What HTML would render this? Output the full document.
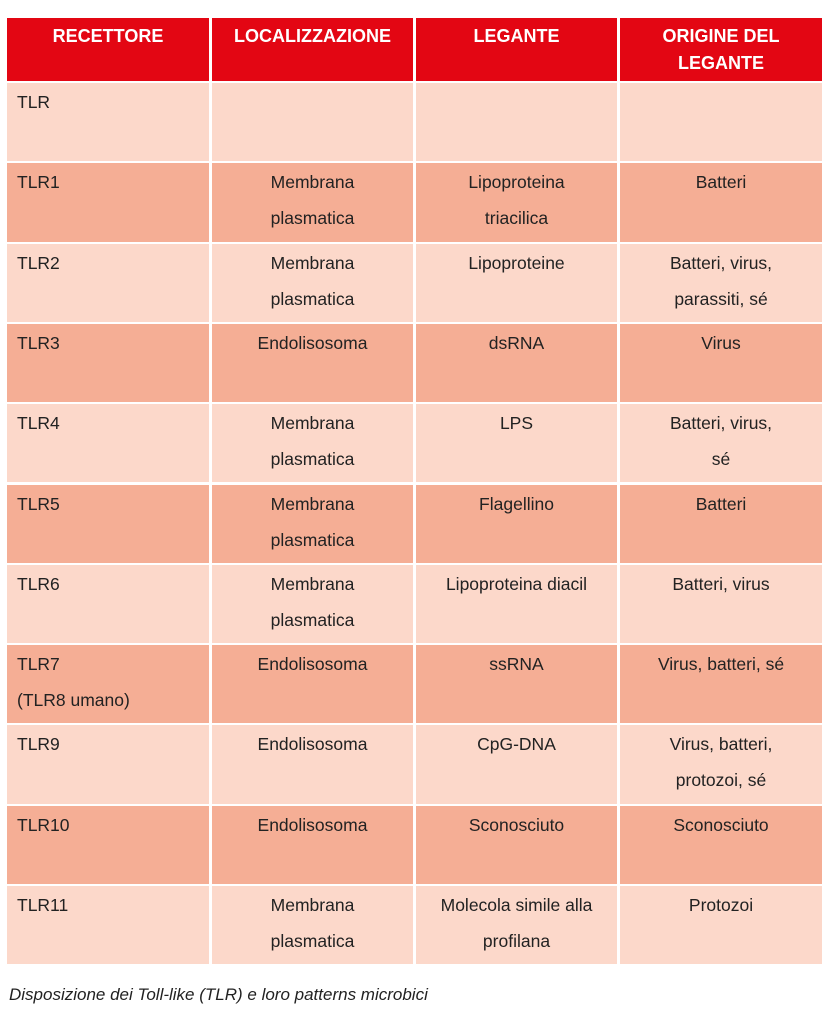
<!DOCTYPE html>
<html><head><style>
body{margin:0;width:827px;height:1024px;background:#fff;position:relative;font-family:"Liberation Sans",sans-serif;overflow:hidden}
.c{position:absolute;box-sizing:border-box;font-size:17.5px;line-height:36px;color:#222;text-align:center;padding-top:1px}
.h{background:#e30613;color:#fff;font-weight:bold;font-size:18px;line-height:27px;padding-top:5px}
.l{text-align:left;padding-left:10px}
.a{background:#fcd8ca}.b{background:#f5ae95}
.cap{position:absolute;left:9px;top:985px;font-style:italic;font-size:17px;color:#222}
</style></head><body>
<div id="t"></div>
<div class="cap">Disposizione dei Toll-like (TLR) e loro patterns microbici</div>
<script>
var X=[[7,202],[212,201],[416,201],[620,202]];
var H=["RECETTORE","LOCALIZZAZIONE","LEGANTE","ORIGINE DEL<br>LEGANTE"];
var R=[["TLR","","",""],
["TLR1","Membrana<br>plasmatica","Lipoproteina<br>triacilica","Batteri"],
["TLR2","Membrana<br>plasmatica","Lipoproteine","Batteri, virus,<br>parassiti, sé"],
["TLR3","Endolisosoma","dsRNA","Virus"],
["TLR4","Membrana<br>plasmatica","LPS","Batteri, virus,<br>sé"],
["TLR5","Membrana<br>plasmatica","Flagellino","Batteri"],
["TLR6","Membrana<br>plasmatica","Lipoproteina diacil","Batteri, virus"],
["TLR7<br>(TLR8 umano)","Endolisosoma","ssRNA","Virus, batteri, sé"],
["TLR9","Endolisosoma","CpG-DNA","Virus, batteri,<br>protozoi, sé"],
["TLR10","Endolisosoma","Sconosciuto","Sconosciuto"],
["TLR11","Membrana<br>plasmatica","Molecola simile alla<br>profilana","Protozoi"]];
var s="";
for(var j=0;j<4;j++)s+='<div class="c h" style="left:'+X[j][0]+'px;top:18px;width:'+X[j][1]+'px;height:63px">'+H[j]+'</div>';
for(var i=0;i<11;i++){var y=83+i*80.3;for(var j=0;j<4;j++)s+='<div class="c '+(i%2?'b':'a')+(j==0?' l':'')+'" style="left:'+X[j][0]+'px;top:'+y+'px;width:'+X[j][1]+'px;height:78.3px">'+R[i][j]+'</div>';}
document.getElementById("t").innerHTML=s;
</script>
</body></html>
